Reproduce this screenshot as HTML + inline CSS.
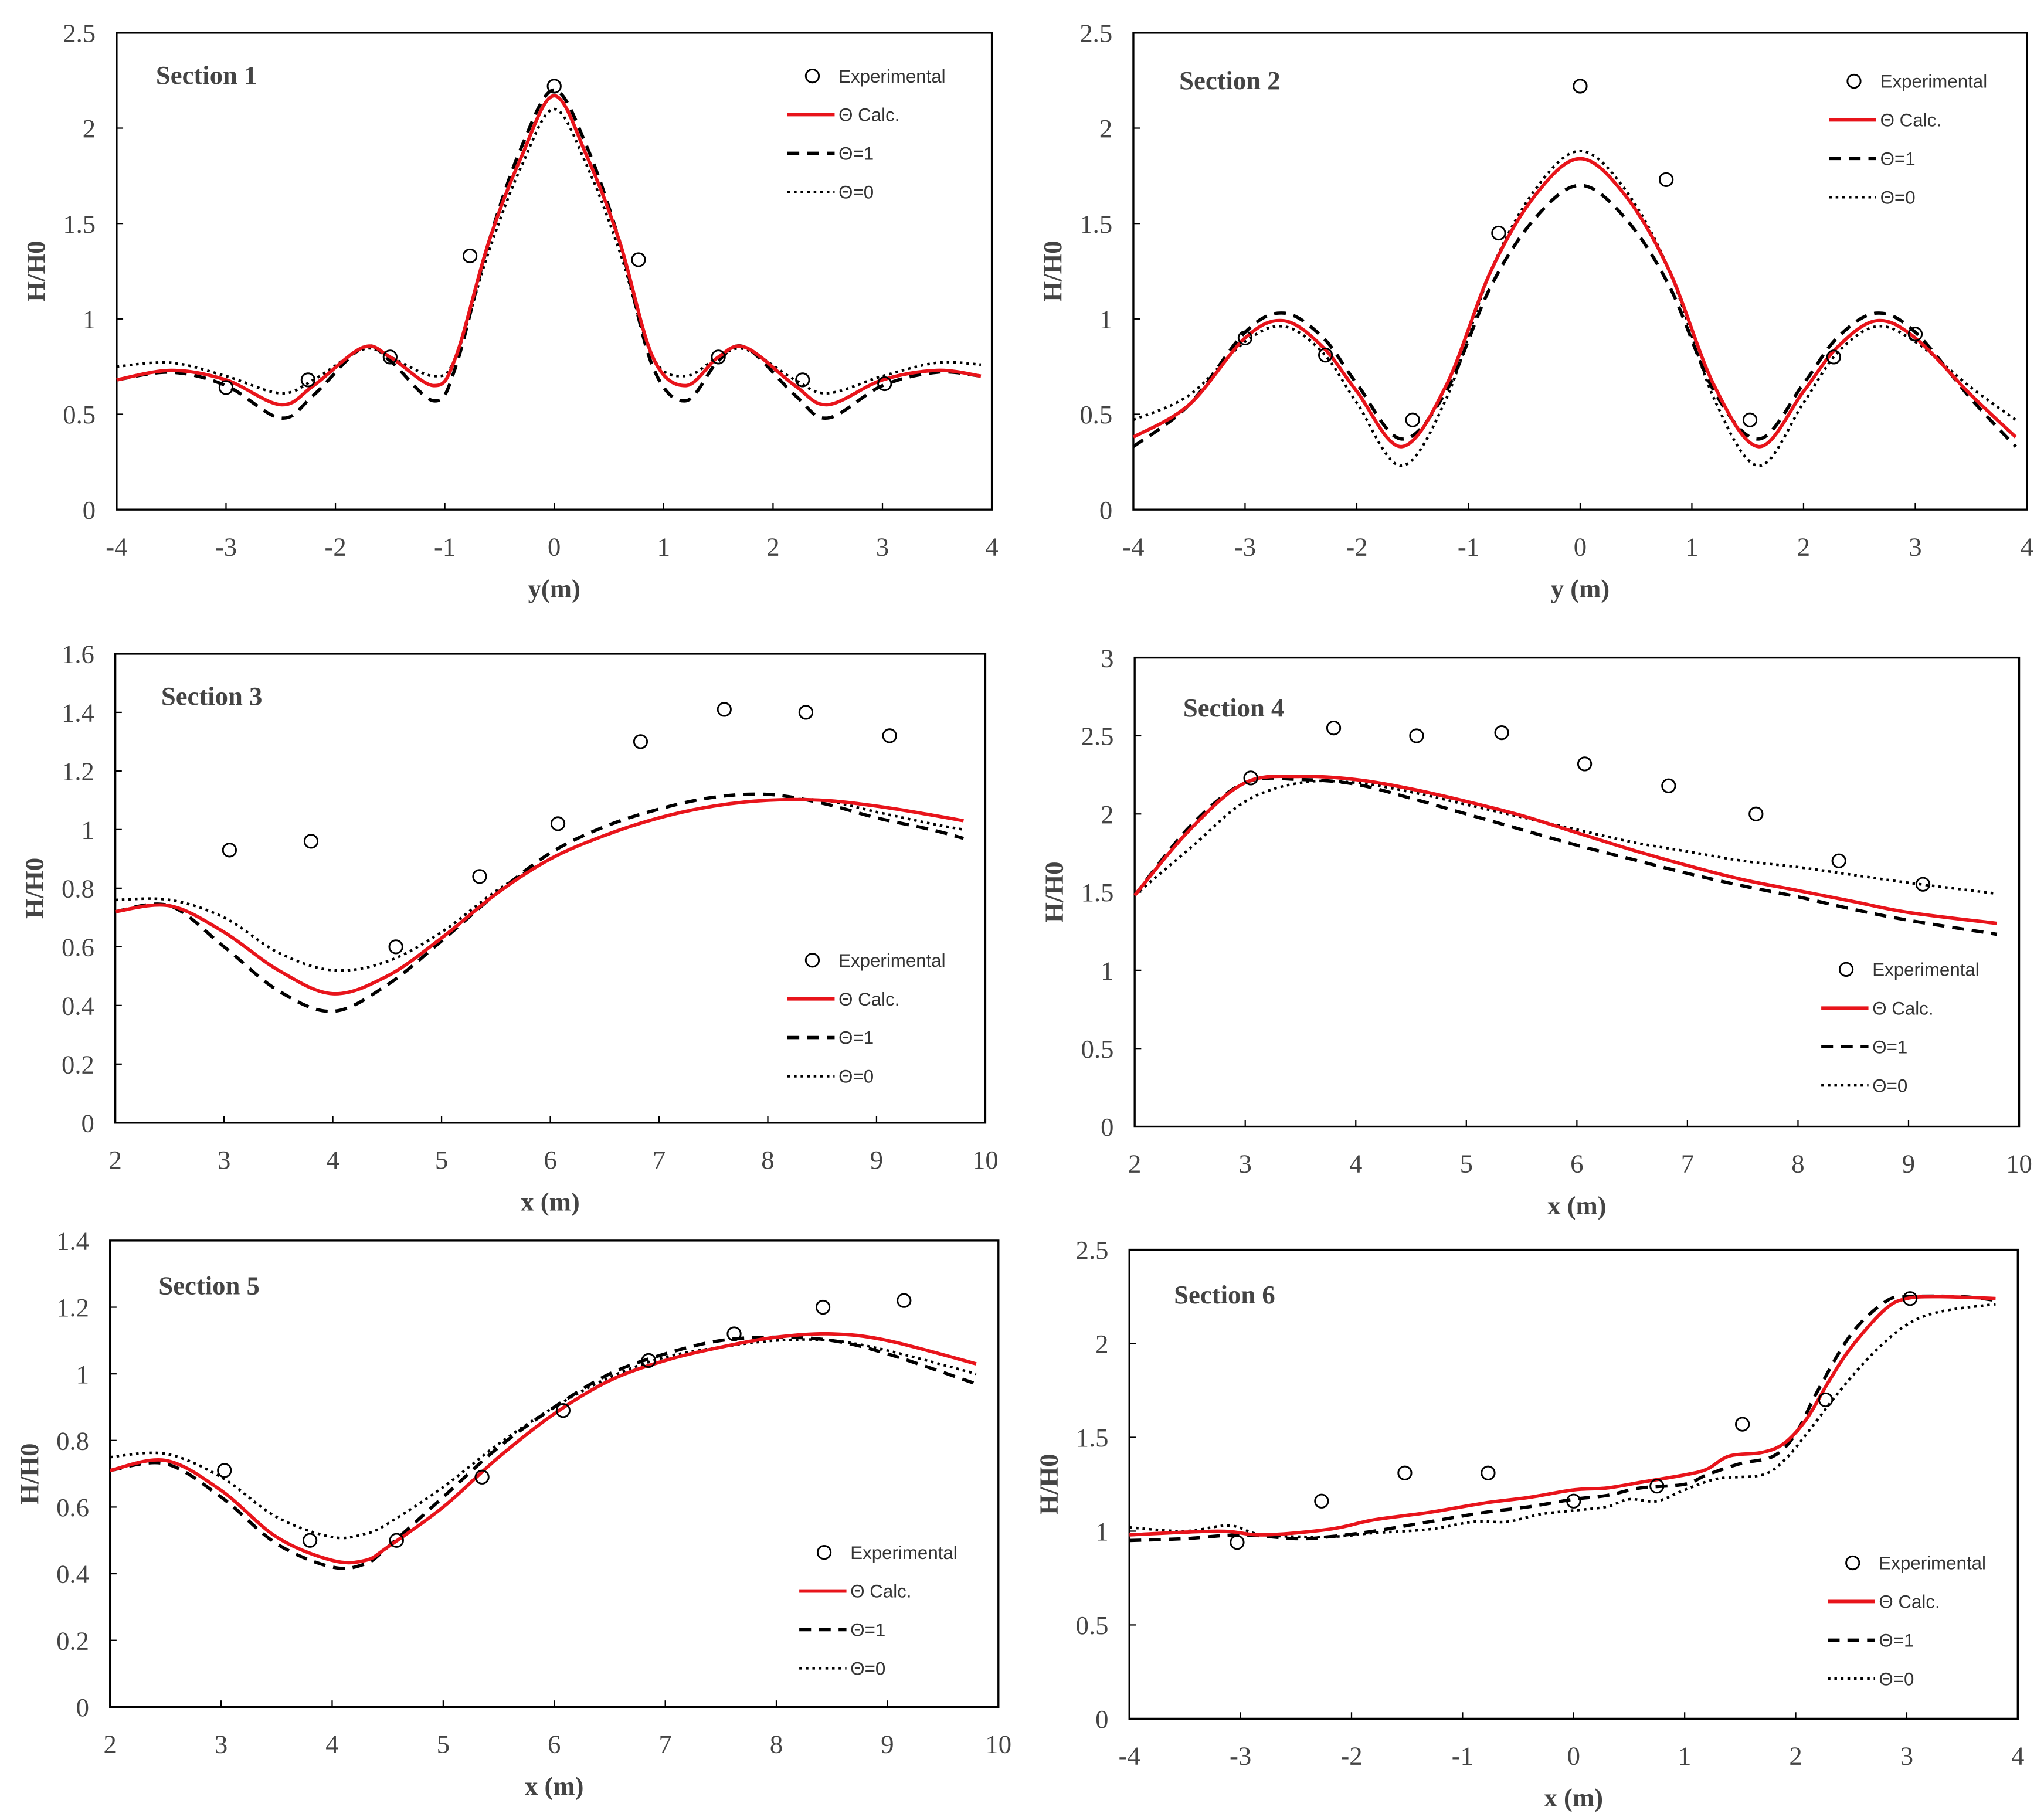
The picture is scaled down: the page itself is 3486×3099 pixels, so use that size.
<!DOCTYPE html>
<html><head><meta charset="utf-8"><style>
html,body{margin:0;padding:0;background:#fff;}
svg{display:block;}
.tick{font-family:"Liberation Serif",serif;font-size:20px;fill:#444;}
.ttl{font-family:"Liberation Serif",serif;font-size:20px;font-weight:bold;fill:#444;}
.leg{font-family:"Liberation Sans",sans-serif;font-size:14px;fill:#333;}
</style></head><body>
<svg id="c" width="3486" height="3099" viewBox="0 0 1560 1387" preserveAspectRatio="none" xmlns="http://www.w3.org/2000/svg"></svg>
<script>
// ---- data ----
const p1CalcX=[-4,-3.5,-3,-2.5,-2.2,-1.75,-1.5,-1.1,-0.9,-0.6,-0.3,0,0.3,0.6,0.9,1.2,1.5,1.75,2.2,2.5,3,3.5,3.9];
const p1Calc=[0.68,0.73,0.68,0.55,0.65,0.85,0.8,0.65,0.8,1.4,1.85,2.17,1.85,1.4,0.8,0.65,0.8,0.85,0.65,0.55,0.68,0.73,0.7];
const p1T1=[0.68,0.72,0.65,0.48,0.6,0.85,0.78,0.57,0.75,1.4,1.9,2.2,1.9,1.4,0.75,0.57,0.78,0.85,0.6,0.48,0.65,0.72,0.7];
const p1T0=[0.75,0.77,0.7,0.61,0.68,0.84,0.8,0.7,0.8,1.35,1.8,2.1,1.8,1.35,0.8,0.7,0.8,0.84,0.68,0.61,0.7,0.77,0.76];
const p1ExpX=[-3,-2.25,-1.5,-0.77,0,0.77,1.5,2.27,3.02];
const p1Exp=[0.64,0.68,0.8,1.33,2.22,1.31,0.8,0.68,0.66];

const p2CalcX=[-4,-3.5,-3,-2.65,-2.3,-2,-1.6,-1.2,-0.8,-0.4,0,0.4,0.8,1.2,1.6,2,2.3,2.65,3,3.5,3.9];
const p2Calc=[0.38,0.55,0.9,0.99,0.85,0.62,0.33,0.65,1.25,1.65,1.84,1.65,1.25,0.65,0.33,0.62,0.85,0.99,0.9,0.6,0.38];
const p2T1=[0.33,0.55,0.93,1.03,0.9,0.66,0.37,0.62,1.17,1.53,1.7,1.53,1.17,0.62,0.37,0.66,0.9,1.03,0.93,0.58,0.33];
const p2T0=[0.47,0.6,0.88,0.96,0.82,0.56,0.23,0.58,1.25,1.68,1.88,1.68,1.25,0.58,0.23,0.56,0.82,0.96,0.88,0.64,0.47];
const p2ExpX=[-3,-2.28,-1.5,-0.73,0,0.77,1.52,2.27,3];
const p2Exp=[0.9,0.81,0.47,1.45,2.22,1.73,0.47,0.8,0.92];

const p3CalcX=[2,2.5,3,3.5,4,4.5,5,5.5,6,6.5,7,7.5,8,8.5,9,9.5,9.8];
const p3Calc=[0.72,0.74,0.65,0.52,0.44,0.5,0.63,0.78,0.9,0.98,1.04,1.08,1.1,1.1,1.08,1.05,1.03];
const p3T1=[0.72,0.74,0.6,0.45,0.38,0.47,0.62,0.78,0.92,1.01,1.07,1.11,1.12,1.09,1.04,1.0,0.97];
const p3T0=[0.76,0.76,0.7,0.58,0.52,0.55,0.65,0.79,0.9,0.98,1.04,1.08,1.1,1.1,1.06,1.02,1.0];
const p3ExpX=[3.05,3.8,4.58,5.35,6.07,6.83,7.6,8.35,9.12];
const p3Exp=[0.93,0.96,0.6,0.84,1.02,1.3,1.41,1.4,1.32];

const p4CalcX=[2,2.5,3,3.5,4,4.5,5,5.5,6,6.5,7,7.5,8,8.5,9,9.8];
const p4Calc=[1.48,1.9,2.2,2.24,2.22,2.16,2.08,1.99,1.88,1.77,1.67,1.58,1.51,1.44,1.37,1.3];
const p4T1=[1.48,1.92,2.2,2.22,2.19,2.1,2.0,1.9,1.8,1.71,1.62,1.54,1.47,1.39,1.32,1.23];
const p4T0=[1.48,1.78,2.08,2.2,2.2,2.14,2.06,1.98,1.9,1.82,1.76,1.7,1.66,1.61,1.56,1.49];
const p4ExpX=[3.05,3.8,4.55,5.32,6.07,6.83,7.62,8.37,9.13];
const p4Exp=[2.23,2.55,2.5,2.52,2.32,2.18,2.0,1.7,1.55];

const p5CalcX=[2,2.5,3,3.5,4,4.3,4.5,5,5.5,6,6.5,7,7.5,8,8.5,9,9.8];
const p5Calc=[0.71,0.74,0.65,0.51,0.44,0.44,0.48,0.6,0.75,0.88,0.98,1.04,1.08,1.11,1.12,1.1,1.03];
const p5T1=[0.71,0.73,0.63,0.49,0.42,0.43,0.48,0.63,0.78,0.9,1.0,1.06,1.1,1.11,1.1,1.06,0.97];
const p5T0=[0.75,0.76,0.69,0.57,0.51,0.52,0.55,0.66,0.79,0.9,0.99,1.05,1.08,1.1,1.1,1.07,1.0];
const p5ExpX=[3.03,3.8,4.58,5.35,6.08,6.85,7.62,8.42,9.15];
const p5Exp=[0.71,0.5,0.5,0.69,0.89,1.04,1.12,1.2,1.22];

const p6CalcX=[-4,-3.2,-2.8,-2.2,-1.8,-1.3,-0.8,-0.4,0,0.3,0.6,1,1.2,1.4,1.7,1.9,2.1,2.3,2.5,2.8,3,3.3,3.8];
const p6Calc=[0.98,1.0,0.98,1.01,1.06,1.1,1.15,1.18,1.22,1.23,1.26,1.3,1.33,1.4,1.42,1.47,1.6,1.8,1.98,2.18,2.24,2.25,2.24];
const p6T1X=[-4,-3.5,-3,-2.5,-2.2,-1.8,-1.3,-0.8,-0.4,0,0.3,0.6,1,1.2,1.5,1.8,2,2.2,2.5,2.8,3,3.5,3.8];
const p6T1=[0.95,0.96,0.98,0.96,0.97,1.0,1.05,1.1,1.13,1.17,1.19,1.23,1.25,1.3,1.36,1.4,1.52,1.75,2.05,2.22,2.25,2.25,2.23];
const p6T0X=[-4,-3.5,-3.1,-2.8,-2.2,-1.8,-1.3,-0.9,-0.6,-0.3,0,0.3,0.5,0.75,1,1.3,1.7,1.9,2.1,2.4,2.7,3,3.3,3.8];
const p6T0=[1.02,1.0,1.03,0.98,0.97,0.99,1.01,1.05,1.05,1.09,1.11,1.13,1.17,1.16,1.22,1.28,1.3,1.38,1.52,1.75,1.95,2.1,2.17,2.21];
const p6ExpX=[-3.03,-2.27,-1.52,-0.77,0,0.75,1.52,2.27,3.03];
const p6Exp=[0.94,1.16,1.31,1.31,1.16,1.24,1.57,1.7,2.24];

const xTicksY=[-4,-3,-2,-1,0,1,2,3,4];
const xTicksX=[2,3,4,5,6,7,8,9,10];

const panels=[
 {id:1,box:[89,25,757,389],xd:[-4,4],yd:[0,2.5],yt:[0,0.5,1,1.5,2,2.5],xt:xTicksY,xl:"y(m)",title:"Section 1",tp:[119,57],leg:[620,58],
  calc:[p1CalcX,p1Calc],t1:[p1CalcX,p1T1],t0:[p1CalcX,p1T0],exp:[p1ExpX,p1Exp]},
 {id:2,box:[865,25,1547,389],xd:[-4,4],yd:[0,2.5],yt:[0,0.5,1,1.5,2,2.5],xt:xTicksY,xl:"y (m)",title:"Section 2",tp:[900,61],leg:[1415,62],
  calc:[p2CalcX,p2Calc],t1:[p2CalcX,p2T1],t0:[p2CalcX,p2T0],exp:[p2ExpX,p2Exp]},
 {id:3,box:[88,499,752,857],xd:[2,10],yd:[0,1.6],yt:[0,0.2,0.4,0.6,0.8,1,1.2,1.4,1.6],xt:xTicksX,xl:"x (m)",title:"Section 3",tp:[123,531],leg:[620,733],
  calc:[p3CalcX,p3Calc],t1:[p3CalcX,p3T1],t0:[p3CalcX,p3T0],exp:[p3ExpX,p3Exp]},
 {id:4,box:[866,502,1541,860],xd:[2,10],yd:[0,3],yt:[0,0.5,1,1.5,2,2.5,3],xt:xTicksX,xl:"x (m)",title:"Section 4",tp:[903,540],leg:[1409,740],
  calc:[p4CalcX,p4Calc],t1:[p4CalcX,p4T1],t0:[p4CalcX,p4T0],exp:[p4ExpX,p4Exp]},
 {id:5,box:[84,947,762,1303],xd:[2,10],yd:[0,1.4],yt:[0,0.2,0.4,0.6,0.8,1,1.2,1.4],xt:xTicksX,xl:"x (m)",title:"Section 5",tp:[121,981],leg:[629,1185],
  calc:[p5CalcX,p5Calc],t1:[p5CalcX,p5T1],t0:[p5CalcX,p5T0],exp:[p5ExpX,p5Exp]},
 {id:6,box:[862,954,1540,1312],xd:[-4,4],yd:[0,2.5],yt:[0,0.5,1,1.5,2,2.5],xt:xTicksY,xl:"x (m)",title:"Section 6",tp:[896,988],leg:[1414,1193],
  calc:[p6CalcX,p6Calc],t1:[p6T1X,p6T1],t0:[p6T0X,p6T0],exp:[p6ExpX,p6Exp]}
];

const NS="http://www.w3.org/2000/svg";
const svg=document.getElementById('c');
function mk(tag,attrs,parent,text){const e=document.createElementNS(NS,tag);for(const k in attrs)e.setAttribute(k,attrs[k]);if(text!==undefined)e.textContent=text;(parent||svg).appendChild(e);return e;}
function smooth(pts){
  let d="M"+pts[0][0].toFixed(2)+","+pts[0][1].toFixed(2);
  for(let i=0;i<pts.length-1;i++){
    const p0=pts[Math.max(0,i-1)],p1=pts[i],p2=pts[i+1],p3=pts[Math.min(pts.length-1,i+2)];
    const c1=[p1[0]+(p2[0]-p0[0])/6,p1[1]+(p2[1]-p0[1])/6];
    const c2=[p2[0]-(p3[0]-p1[0])/6,p2[1]-(p3[1]-p1[1])/6];
    d+=" C"+c1.map(v=>v.toFixed(2)).join(",")+" "+c2.map(v=>v.toFixed(2)).join(",")+" "+p2[0].toFixed(2)+","+p2[1].toFixed(2);
  }
  return d;
}
panels.forEach(p=>{
  const g=mk('g',{});
  
  
  const [L,T,R,B]=p.box;
  const sx=v=>L+(v-p.xd[0])/(p.xd[1]-p.xd[0])*(R-L);
  const sy=v=>B-(v-p.yd[0])/(p.yd[1]-p.yd[0])*(B-T);
  const frame=mk('rect',{x:L,y:T,width:R-L,height:B-T,fill:'none',stroke:'#000','stroke-width':1.5},g);
  
  
  p.yt.forEach(v=>{
    const t=mk('text',{x:L-16,y:sy(v)+7,'text-anchor':'end',class:'tick'},g,String(v));
    
    
    mk('line',{x1:L,x2:L+5,y1:sy(v),y2:sy(v),stroke:'#000','stroke-width':1},g);
  });
  p.xt.forEach(v=>{
    const t=mk('text',{x:sx(v),y:B+35,'text-anchor':'middle',class:'tick'},g,String(v));
    
    
    mk('line',{x1:sx(v),x2:sx(v),y1:B,y2:B-5,stroke:'#000','stroke-width':1},g);
  });
  const xl=mk('text',{x:(L+R)/2,y:B+67,'text-anchor':'middle',class:'ttl'},g,p.xl);
  
  
  const yc=(T+B)/2;
  const yl=mk('text',{x:L-55,y:yc,'text-anchor':'middle',class:'ttl',transform:`rotate(-90 ${L-55} ${yc})`},g,"H/H0");
  
  
  const st=mk('text',{x:p.tp[0],y:p.tp[1]+7,class:'ttl'},g,p.title);
  
  
  const styles={t0:{stroke:'#000','stroke-width':2,'stroke-dasharray':'2,3'},t1:{stroke:'#000','stroke-width':2.5,'stroke-dasharray':'9,6'},calc:{stroke:'#e8141b','stroke-width':2.6}};
  ['t0','t1','calc'].forEach(k=>{
    const [xs,ys]=p[k];
    const pts=xs.map((x,i)=>[sx(x),sy(ys[i])]);
    const a=Object.assign({d:smooth(pts),fill:'none'},styles[k]);
    const path=mk('path',a,g);
    
    
  });
  p.exp[0].forEach((x,i)=>{
    const c=mk('circle',{cx:sx(x),cy:sy(p.exp[1][i]),r:5,fill:'none',stroke:'#000','stroke-width':1.3},g);
    
    
  });
  // legend
  const [lx,ly]=p.leg;
  const lg=mk('g',{},g);
  
  
  mk('circle',{cx:lx,cy:ly,r:5,fill:'none',stroke:'#000','stroke-width':1.3},lg);
  const labels=["Experimental","\u0398 Calc.","\u0398=1","\u0398=0"];
  [null,'calc','t1','t0'].forEach((k,i)=>{
    const yy=ly+i*29.5;
    if(k){const a=Object.assign({x1:lx-19,x2:lx+17,y1:yy,y2:yy},styles[k]);mk('line',a,lg);}
    const t=mk('text',{x:lx+20,y:yy+5,class:'leg'},lg,labels[i]);
    
    
  });
});
</script>
</body></html>
